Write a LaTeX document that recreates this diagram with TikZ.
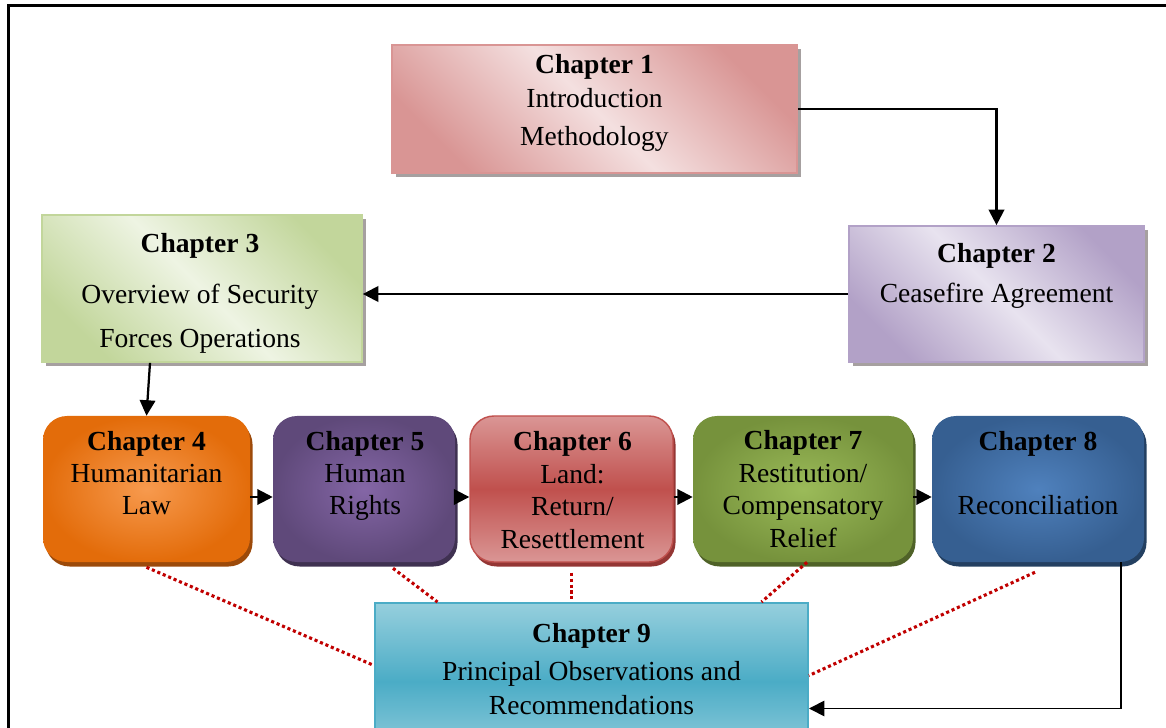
\documentclass[tikz,border=0pt]{standalone}
\usepackage{fontspec}
\setmainfont{Liberation Serif}
\usepackage{xcolor}
\usetikzlibrary{positioning,arrows.meta,shadows,calc}

% box colours
\definecolor{pinkD}{HTML}{D99594}
\definecolor{pinkL}{HTML}{F4E0E0}
\definecolor{lavD}{HTML}{B2A1C7}
\definecolor{lavL}{HTML}{E8E3EF}
\definecolor{grnD}{HTML}{C2D69B}
\definecolor{grnL}{HTML}{EEF4E3}
\definecolor{orgO}{HTML}{E36C0A}
\definecolor{orgI}{HTML}{F79A4E}
\definecolor{orgS}{HTML}{9C4A0A}
\definecolor{purO}{HTML}{5F497A}
\definecolor{purI}{HTML}{8466A6}
\definecolor{purS}{HTML}{3F3151}
\definecolor{redO}{HTML}{C0504D}
\definecolor{redL}{HTML}{DA9695}
\definecolor{redS}{HTML}{943634}
\definecolor{olvO}{HTML}{76923C}
\definecolor{olvI}{HTML}{9BBB59}
\definecolor{olvS}{HTML}{4F6228}
\definecolor{bluO}{HTML}{365F91}
\definecolor{bluI}{HTML}{4F81BD}
\definecolor{bluS}{HTML}{244061}
\definecolor{cyaM}{HTML}{4BACC6}
\definecolor{cyaL}{HTML}{96CFDD}
\definecolor{dotred}{HTML}{C00000}
\definecolor{shgray}{HTML}{A6A0A0}

\tikzset{
  flatbox/.style={line width=1.2pt, inner sep=0pt,
    drop shadow={shadow xshift=2.8pt, shadow yshift=-2.8pt, fill=shgray, opacity=1}},
  roundbox/.style={rounded corners=0.6cm, inner sep=0pt},
  rowshadow/.style={drop shadow={shadow xshift=1.8pt, shadow yshift=-3.2pt, fill=#1, opacity=1}},
  chtext/.style={anchor=base, align=center, inner sep=0pt},
  arr/.style={line width=1.6pt, -{Triangle[length=11pt,width=11pt]}},
  redlink/.style={draw=dotred, line width=2.2pt, dash pattern=on 2.2pt off 2pt}
}

\begin{document}
\begin{tikzpicture}[x=0.025cm, y=-0.025cm, font=\fontsize{19.6}{23}\selectfont]
  % 1 px = 0.025cm, y counted downwards as in the sketch
  % text nodes sit on the baseline of their last line
  \def\px{0.025cm}
  \clip (0,0) rectangle (1166,728);
  % page frame
  \draw[line width=2.1pt] (8.5,790) -- (8.5,5.3) -- (1200,5.3);

  % top part: chapters 1--3
  \node[flatbox, draw=pinkD, top color=pinkD, bottom color=pinkD, middle color=pinkL,
        shading angle=-45, minimum width={405*\px}, minimum height={128*\px}] (c1) at (594.5,109) {};
  \node[chtext, font=\fontsize{19.6}{23.5}\selectfont] (t1) at (594.5,146)
        {\textbf{Chapter 1}\\Introduction\\[4.2pt]Methodology};
  \node[flatbox, draw=lavD, top color=lavD, bottom color=lavD, middle color=lavL,
        shading angle=-45, minimum width={295*\px}, minimum height={136*\px}] (c2) at (996.5,294) {};
  \node[chtext, font=\fontsize{19.6}{28.5}\selectfont] (t2) at (996.5,303)
        {\textbf{Chapter 2}\\Ceasefire Agreement};
  \node[flatbox, draw=grnD, top color=grnD, bottom color=grnD, middle color=grnL,
        shading angle=-45, minimum width={320*\px}, minimum height={147*\px}] (c3) at (202,288.5) {};
  \node[chtext, font=\fontsize{19.6}{33.8}\selectfont] (t3) at (200,348)
        {\textbf{Chapter 3}\\[1.8pt]Overview of Security\\[-1.8pt]Forces Operations};

  % middle row: chapters 4--8
  \node[roundbox, rowshadow=orgS, shading=radial, inner color=orgI, outer color=orgO,
        minimum width={207*\px}, minimum height={146*\px}] (c4) at (146.5,489) {};
  \node[chtext] (t4) at (146.5,515) {\textbf{Chapter 4}\\Humanitarian\\Law};
  \node[roundbox, rowshadow=purS, shading=radial, inner color=purI, outer color=purO,
        minimum width={182*\px}, minimum height={146*\px}] (c5) at (364,489) {};
  \node[chtext] (t5) at (365,515) {\textbf{Chapter 5}\\Human\\Rights};
  \node[roundbox, rowshadow=redS, draw=redO, line width=1pt, top color=redL, bottom color=redL,
        middle color=redO, minimum width={203*\px}, minimum height={146*\px}] (c6) at (571.5,489) {};
  \node[chtext] (t6) at (572.5,548) {\textbf{Chapter 6}\\Land:\\Return/\\Resettlement};
  \node[roundbox, rowshadow=olvS, shading=radial, inner color=olvI, outer color=olvO,
        minimum width={220*\px}, minimum height={146*\px}] (c7) at (803,489) {};
  \node[chtext] (t7) at (803,547) {\textbf{Chapter 7}\\Restitution/\\Compensatory\\Relief};
  \node[roundbox, rowshadow=bluS, shading=radial, inner color=bluI, outer color=bluO,
        minimum width={212*\px}, minimum height={146*\px}] (c8) at (1038,489) {};
  \node[chtext] (t8) at (1038,515) {\textbf{Chapter 8}\\[23pt]Reconciliation};

  % bottom: chapter 9
  \node[draw=cyaM, line width=1.4pt, inner sep=0pt, top color=cyaL, bottom color=cyaL,
        middle color=cyaM, minimum width={433*\px}, minimum height={157*\px}] (c9) at (591.5,681.5) {};
  \node[chtext, font=\fontsize{19.6}{23.5}\selectfont] (t9) at (591.5,714)
        {\textbf{Chapter 9}\\[4.2pt]Principal Observations and\\Recommendations};

  % reading order
  \draw[arr] (c1.east) -| (c2.north);
  \draw[arr] (c2.west) -- (c2.west -| c3.east);
  \draw[arr] ([xshift=-52*\px]c3.south) -- (c4.north);
  \draw[arr] ([yshift=-8*\px]c4.east) -- ([yshift=-8*\px]c5.west);
  \draw[arr] ([yshift=-8*\px]c5.east) -- ([yshift=-8*\px]c6.west);
  \draw[arr] ([yshift=-8*\px]c6.east) -- ([yshift=-8*\px]c7.west);
  \draw[arr] ([yshift=-8*\px]c7.east) -- ([yshift=-8*\px]c8.west);
  \draw[arr, line width=1.2pt] ([xshift=83*\px]c8.south) |- ([yshift=-27*\px]c9.east);

  % dotted links into chapter 9
  \draw[redlink] ([yshift=-5*\px]c4.south) -- ([yshift=16*\px]c9.west);
  \draw[redlink] ([xshift=29*\px,yshift=-6*\px]c5.south) -- ([xshift=-154*\px]c9.north);
  \draw[redlink] ([yshift=-10*\px]c6.south) -- (c6.south |- c9.north);
  \draw[redlink] ([xshift=4*\px]c7.south) -- ([xshift=170*\px]c9.north);
  \draw[redlink] ([xshift=-3*\px,yshift=-10*\px]c8.south) -- ([yshift=6*\px]c9.east);
\end{tikzpicture}
\end{document}
